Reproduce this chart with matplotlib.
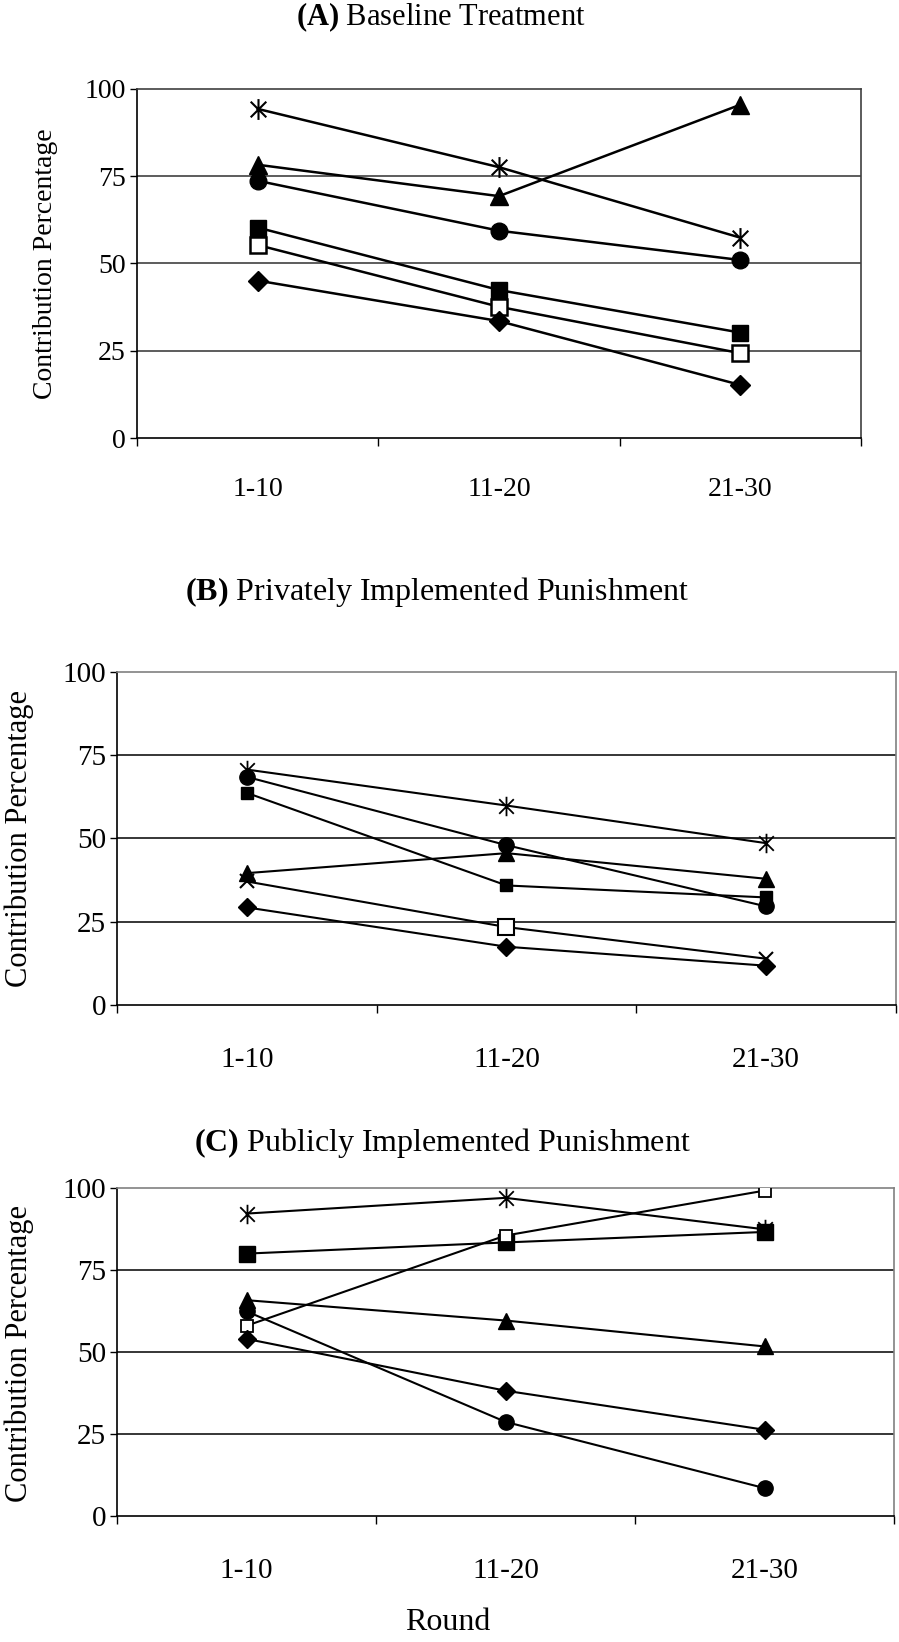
import matplotlib
matplotlib.use('Agg')
import matplotlib.pyplot as plt
from matplotlib.path import Path

plt.rcParams['font.family'] = ['Liberation Serif', 'DejaVu Serif']
plt.rcParams['mathtext.fontset'] = 'custom'
plt.rcParams['mathtext.bf'] = 'Liberation Serif:bold'
plt.rcParams['mathtext.rm'] = 'Liberation Serif'

rounds = ['1-10', '11-20', '21-30']

# panel A - baseline
a_star = [94.3, 77.6, 57.4]
a_triangle = [78.3, 69.3, 95.5]
a_circle = [73.7, 59.4, 51.0]
a_square = [60.3, 42.4, 30.2]
a_open_square = [55.3, 37.6, 24.3]
a_diamond = [45.1, 33.5, 15.2]

# panel B - private punishment
b_star = [70.7, 59.9, 48.6]
b_circle = [68.5, 48.0, 29.6]
b_square = [63.7, 35.9, 32.3]
b_triangle = [39.6, 45.6, 37.9]
b_open = [37.1, 23.4, 13.9]
b_open_markers = ['x', 's', 'x']
b_diamond = [29.3, 17.5, 11.8]

# panel C - public punishment
c_star = [92.2, 97.0, 87.4]
c_square = [80.0, 83.4, 86.6]
c_open_square = [58.0, 85.5, 99.2]
c_triangle = [65.8, 59.6, 51.7]
c_circle = [62.4, 28.7, 8.5]
c_diamond = [54.0, 38.2, 26.3]

# excel style asterisk: vertical bar plus an x
star = Path([(0, -1), (0, 1), (-0.75, -0.75), (0.75, 0.75), (-0.75, 0.75), (0.75, -0.75)],
            [Path.MOVETO, Path.LINETO, Path.MOVETO, Path.LINETO, Path.MOVETO, Path.LINETO])

W, H = 899, 1642
fig = plt.figure(figsize=(W / 100, H / 100), dpi=100)


def make_axes(left, right, top, bottom):
    return fig.add_axes([left / W, 1 - bottom / H, (right - left) / W, (bottom - top) / H])


def style_axes(ax, tick_size, grid_col, edge_col, pad):
    ax.set_xlim(0, 3)
    ax.set_ylim(0, 100)
    ax.set_yticks([0, 25, 50, 75, 100])
    ax.set_xticks([0, 1, 2, 3])
    ax.set_xticklabels([])
    ax.set_xticks([0.5, 1.5, 2.5], minor=True)
    ax.set_xticklabels(rounds, minor=True)
    ax.tick_params(axis='x', which='major', direction='out', length=6, width=1)
    ax.tick_params(axis='x', which='minor', length=0, pad=pad, labelsize=tick_size)
    ax.tick_params(axis='y', direction='out', length=5, width=1, pad=3, labelsize=tick_size)
    for v in [25, 50, 75]:
        ax.axhline(v, color=grid_col, lw=1.1, zorder=1)
    for s in ['top', 'right']:
        ax.spines[s].set_color(edge_col)
        ax.spines[s].set_linewidth(1.2)
    for s in ['left', 'bottom']:
        ax.spines[s].set_color('black')
        ax.spines[s].set_linewidth(1.2)


def title(cx, cy, letter, rest, size):
    fig.text(cx / W, 1 - cy / H, r'$\mathbf{(' + letter + r')}$ ' + rest,
             ha='center', va='center', fontsize=size)


x = [0.5, 1.5, 2.5]

# ---------------- (A)
ax = make_axes(137, 861, 89, 438)
style_axes(ax, 20, '#303030', '#404040', 28)
lw = 1.8
ax.plot(x, a_star, color='k', lw=lw, marker=star, ms=15, mew=1.5, mfc='none', mec='k', zorder=3)
ax.plot(x, a_triangle, color='k', lw=lw, marker='^', ms=13, zorder=3)
ax.plot(x, a_circle, color='k', lw=lw, marker='o', ms=12, zorder=3)
ax.plot(x, a_square, color='k', lw=lw, marker='s', ms=12, zorder=3)
ax.plot(x, a_open_square, color='k', lw=lw, marker='s', ms=12, mfc='white', mew=1.8, zorder=3)
ax.plot(x, a_diamond, color='k', lw=lw, marker='D', ms=10, zorder=3)
fig.text(46 / W, 1 - 264 / H, 'Contribution Percentage', rotation=90, ha='center', va='center', fontsize=20)
title(441, 17, 'A', 'Baseline Treatment', 22)

# ---------------- (B)
ax = make_axes(117, 896, 672, 1005)
style_axes(ax, 21, 'black', '#808080', 30)
lw = 1.5
ax.plot(x, b_star, color='k', lw=lw, marker=star, ms=14, mew=1.3, mfc='none', mec='k', zorder=3)
ax.plot(x, b_circle, color='k', lw=lw, marker='o', ms=11, zorder=3)
ax.plot(x, b_square, color='k', lw=lw, marker='s', ms=8, zorder=3)
ax.plot(x, b_triangle, color='k', lw=lw, marker='^', ms=12, zorder=3)
ax.plot(x, b_open, color='k', lw=lw, zorder=3)
for xi, yi, m in zip(x, b_open, b_open_markers):
    if m == 's':
        ax.plot(xi, yi, marker='s', ms=11, mfc='white', mec='k', mew=1.5, zorder=4)
    else:
        ax.plot(xi, yi, marker='x', ms=10, mec='k', mew=1.5, zorder=4)
ax.plot(x, b_diamond, color='k', lw=lw, marker='D', ms=9, zorder=3)
fig.text(19 / W, 1 - 838 / H, 'Contribution Percentage', rotation=90, ha='center', va='center', fontsize=22)
title(437, 592, 'B', 'Privately Implemented Punishment', 23)

# ---------------- (C)
ax = make_axes(117, 894, 1188, 1516)
style_axes(ax, 21, 'black', '#808080', 30)
ax.plot(x, c_star, color='k', lw=lw, marker=star, ms=14, mew=1.3, mfc='none', mec='k', zorder=3)
ax.plot(x, c_square, color='k', lw=lw, marker='s', ms=11, zorder=3)
ax.plot(x, c_open_square, color='k', lw=lw, marker='s', ms=8, mfc='white', mew=1.3, zorder=3)
ax.plot(x, c_triangle, color='k', lw=lw, marker='^', ms=12, zorder=3)
ax.plot(x, c_circle, color='k', lw=lw, marker='o', ms=11, zorder=3)
ax.plot(x, c_diamond, color='k', lw=lw, marker='D', ms=9, zorder=3)
fig.text(19 / W, 1 - 1354 / H, 'Contribution Percentage', rotation=90, ha='center', va='center', fontsize=22)
fig.text(448 / W, 1 - 1622 / H, 'Round', ha='center', va='center', fontsize=23)
title(442, 1143, 'C', 'Publicly Implemented Punishment', 23)

fig.savefig('out.png', dpi=100)
